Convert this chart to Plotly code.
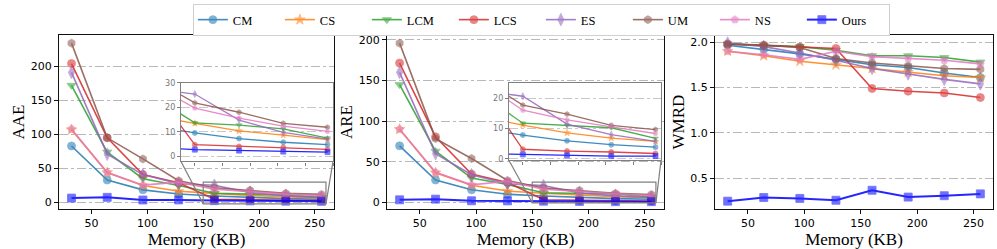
import plotly.graph_objects as go

memory = [32, 64, 96, 128, 160, 192, 224, 256]
series = ["CM", "CS", "LCM", "LCS", "ES", "UM", "NS", "Ours"]

aae = {
    "CM": [83, 33, 18.6, 12.5, 9.6, 7.3, 5.8, 4.8],
    "CS": [107, 44, 25, 16.5, 13.5, 10.4, 8.7, 6.9],
    "LCM": [172, 74, 35, 25, 13.7, 12.8, 11.2, 7.5],
    "LCS": [204, 95, 41, 29, 4.8, 4.1, 3.7, 2.9],
    "ES": [191, 71, 41, 27.5, 25.4, 14.8, 9.8, 7.1],
    "UM": [234, 95, 64, 32, 21.8, 18.0, 13.5, 11.9],
    "NS": [108, 44, 25.5, 30, 19.7, 15.6, 12.4, 10.2],
    "Ours": [6.5, 7.6, 3.7, 3.8, 2.8, 2.4, 2.0, 1.8],
}
are = {
    "CM": [69.6, 27.6, 15.6, 10.0, 7.9, 6.0, 4.7, 3.9],
    "CS": [90, 36.5, 21, 14.0, 11.2, 8.6, 6.9, 5.8],
    "LCM": [145, 63, 30, 22, 11.8, 11.1, 10.3, 6.8],
    "LCS": [171.5, 80.7, 34.8, 24.5, 3.2, 2.6, 2.3, 1.8],
    "ES": [160, 60, 34, 22.7, 20.7, 11.5, 8.0, 5.8],
    "UM": [196, 78.5, 54, 27, 17.8, 14.8, 11.1, 9.7],
    "NS": [90, 37, 21.6, 26, 16.1, 12.9, 10.6, 8.4],
    "Ours": [3.2, 4.0, 2.0, 1.9, 1.5, 1.2, 0.95, 0.95],
}
wmrd = {
    "CM": [1.965, 1.92, 1.87, 1.81, 1.75, 1.72, 1.66, 1.61],
    "CS": [1.90, 1.85, 1.79, 1.75, 1.71, 1.67, 1.63, 1.61],
    "LCM": [1.98, 1.965, 1.95, 1.91, 1.85, 1.85, 1.83, 1.78],
    "LCS": [1.98, 1.965, 1.945, 1.93, 1.49, 1.46, 1.44, 1.39],
    "ES": [1.99, 1.95, 1.88, 1.80, 1.71, 1.65, 1.59, 1.54],
    "UM": [1.975, 1.965, 1.94, 1.82, 1.77, 1.74, 1.71, 1.70],
    "NS": [1.90, 1.86, 1.81, 1.90, 1.84, 1.82, 1.80, 1.76],
    "Ours": [0.25, 0.29, 0.28, 0.26, 0.37, 0.295, 0.31, 0.33],
}

colors = {"CM": "#1f77b4", "CS": "#ff7f0e", "LCM": "#2ca02c", "LCS": "#d62728",
          "ES": "#9467bd", "UM": "#8c564b", "NS": "#e377c2", "Ours": "#0000ff"}
symbols = {"CM": "circle", "CS": "star", "LCM": "triangle-down", "LCS": "circle",
           "ES": "diamond-tall", "UM": "hexagon", "NS": "pentagon", "Ours": "square"}
msize = {"CM": 8, "CS": 8, "LCM": 8, "LCS": 8, "ES": 9, "UM": 8, "NS": 8, "Ours": 8}

W, H = 997, 249
def px(x): return x / W
def py(y): return 1 - y / H

YDOM = [py(211), py(32)]
dom1 = [px(59), px(334)]
dom2 = [px(387), px(664)]
dom3 = [px(715), px(993)]
ins1x = [px(181), px(333)]
ins1y = [py(162), py(81)]
ins2x = [px(509), px(661)]
ins2y = [py(161), py(81.5)]

XR = [20.8, 267.2]
YR1 = [-9.6, 245.8]
YR2 = [-8.2, 205.9]
YR3 = [0.163, 2.077]
IX = [150, 260]
IY1 = [-2, 30]
IY2 = [-0.5, 25]

fig = go.Figure()

def add(data, xa, ya, inset, legend):
    for s in series:
        fig.add_trace(go.Scatter(
            x=memory, y=data[s], name=s, mode="lines+markers",
            xaxis=xa, yaxis=ya, showlegend=legend, legendgroup=s, cliponaxis=True,
            line=dict(color=colors[s], width=(1.6 if s != "Ours" else 2.0) if not inset else 1.3),
            opacity=0.85,
            marker=dict(symbol=symbols[s], size=(msize[s] if not inset else 5),
                        color=colors[s], opacity=0.65,
                        line=dict(width=0.8, color=colors[s])),
        ))

add(aae, "x", "y", False, True)
add(are, "x2", "y2", False, False)
add(wmrd, "x3", "y3", False, False)
add(aae, "x4", "y4", True, False)
add(are, "x5", "y5", True, False)

tickfont = dict(family="DejaVu Sans", size=11, color="#000")
titlefont = dict(family="Liberation Serif", size=17, color="#000")

def main_x(dom, anchor):
    return dict(domain=dom, anchor=anchor, range=XR, tickvals=[50, 100, 150, 200, 250],
                showline=True, mirror=True, linecolor="#111", linewidth=1,
                ticks="outside", ticklen=4, tickcolor="#111", tickfont=tickfont,
                showgrid=False, zeroline=False,
                title=dict(text="Memory (KB)", font=titlefont, standoff=0))

def main_y(anchor, rng, vals, title, fmt=None):
    d = dict(domain=YDOM, anchor=anchor, range=rng, tickvals=vals,
             showline=True, mirror=True, linecolor="#111", linewidth=1,
             ticks="outside", ticklen=4, tickcolor="#111", tickfont=tickfont,
             showgrid=True, gridcolor="#b8b8b8", gridwidth=1, griddash="dashdot",
             zeroline=False, title=dict(text=title, font=titlefont, standoff=1))
    if fmt:
        d["tickformat"] = fmt
    return d

def ins_x(dom, anchor):
    return dict(domain=dom, anchor=anchor, range=IX, tickvals=[160, 180, 200, 220, 240, 260],
                showticklabels=False, showline=True, mirror=True, linecolor="#808080",
                linewidth=1.2, ticks="outside", ticklen=3, tickcolor="#808080",
                showgrid=False, zeroline=False)

def ins_y(dom, anchor, rng, vals):
    return dict(domain=dom, anchor=anchor, range=rng, tickvals=vals,
                showline=True, mirror=True, linecolor="#808080", linewidth=1.2,
                ticks="outside", ticklen=3, tickcolor="#808080",
                tickfont=dict(family="DejaVu Sans", size=8, color="#777"),
                showgrid=True, gridcolor="#c8c8c8", gridwidth=1, griddash="dashdot",
                zeroline=False)

shapes = []
shapes.append(dict(type="rect", xref="x4", yref="y4", x0=IX[0], x1=IX[1], y0=IY1[0], y1=IY1[1],
                   fillcolor="white", line=dict(width=0), layer="below"))
shapes.append(dict(type="rect", xref="x5", yref="y5", x0=IX[0], x1=IX[1], y0=IY2[0], y1=IY2[1],
                   fillcolor="white", line=dict(width=0), layer="below"))
shapes.append(dict(type="rect", xref="x", yref="y", x0=IX[0], x1=IX[1], y0=IY1[0], y1=IY1[1],
                   line=dict(color="#808080", width=1.2), layer="above"))
shapes.append(dict(type="rect", xref="x2", yref="y2", x0=IX[0], x1=IX[1], y0=IY2[0], y1=IY2[1],
                   line=dict(color="#808080", width=1.2), layer="above"))

def to_paper(v, rng, dom):
    return dom[0] + (v - rng[0]) / (rng[1] - rng[0]) * (dom[1] - dom[0])

for dom, yr, iy, ixd, iyd in [(dom1, YR1, IY1, ins1x, ins1y), (dom2, YR2, IY2, ins2x, ins2y)]:
    bl = (to_paper(IX[0], XR, dom), to_paper(iy[0], yr, YDOM))
    br = (to_paper(IX[1], XR, dom), to_paper(iy[0], yr, YDOM))
    shapes.append(dict(type="line", xref="paper", yref="paper", x0=ixd[0], y0=iyd[0],
                       x1=bl[0], y1=bl[1], line=dict(color="#808080", width=1.2), layer="above"))
    shapes.append(dict(type="line", xref="paper", yref="paper", x0=ixd[1], y0=iyd[0],
                       x1=br[0], y1=br[1], line=dict(color="#808080", width=1.2), layer="above"))

fig.update_layout(
    width=W, height=H, margin=dict(l=0, r=0, t=0, b=0),
    paper_bgcolor="white", plot_bgcolor="white",
    xaxis=main_x(dom1, "y"), yaxis=main_y("x", YR1, [0, 50, 100, 150, 200], "AAE"),
    xaxis2=main_x(dom2, "y2"), yaxis2=main_y("x2", YR2, [0, 50, 100, 150, 200], "ARE"),
    xaxis3=main_x(dom3, "y3"), yaxis3=main_y("x3", YR3, [0.5, 1.0, 1.5, 2.0], "WMRD", ".1f"),
    xaxis4=ins_x(ins1x, "y4"), yaxis4=ins_y(ins1y, "x4", IY1, [0, 10, 20, 30]),
    xaxis5=ins_x(ins2x, "y5"), yaxis5=ins_y(ins2y, "x5", IY2, [0, 10, 20]),
    shapes=shapes,
    legend=dict(orientation="h", x=0.543, xanchor="center", y=1.0, yanchor="top",
                font=dict(family="Liberation Serif", size=12.5, color="#000"),
                bordercolor="#d0d0d0", borderwidth=1, bgcolor="white",
                entrywidth=42, entrywidthmode="pixels", itemwidth=30),
)

fig.write_html("out.html", config={"displayModeBar": False},
               post_script="document.body.style.margin='0';document.body.style.overflow='hidden';")
